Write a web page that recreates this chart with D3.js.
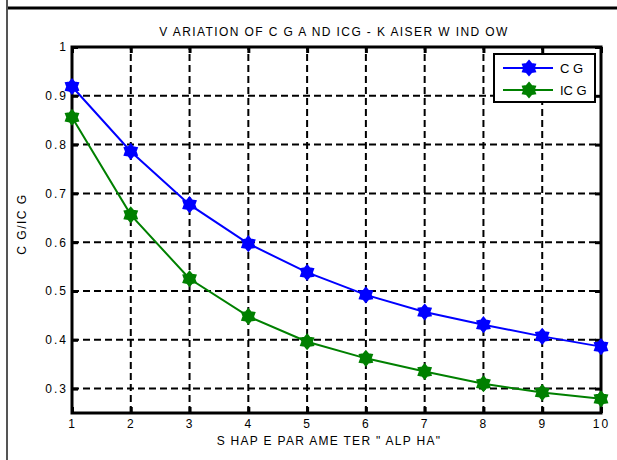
<!DOCTYPE html>
<html>
<head>
<meta charset="utf-8">
<script src="https://cdn.jsdelivr.net/npm/d3@7"></script>
<style>
  body { margin: 0; background: #fff; }
  svg { font-family: "Liberation Sans", Arial, sans-serif; }
</style>
</head>
<body>
<svg id="chart" width="617" height="460"></svg>
<script>
// data
const alpha = [1, 2, 3, 4, 5, 6, 7, 8, 9, 10];
const cg  = [0.919, 0.786, 0.677, 0.597, 0.538, 0.492, 0.457, 0.431, 0.407, 0.386];
const icg = [0.856, 0.656, 0.525, 0.448, 0.396, 0.362, 0.335, 0.310, 0.292, 0.279];
const yTicks = [0.3, 0.4, 0.5, 0.6, 0.7, 0.8, 0.9, 1];
const xTicks = [1, 2, 3, 4, 5, 6, 7, 8, 9, 10];
const seriesNames = ["C G", "IC G"];
const seriesColors = ["#0000ff", "#008000"];

const svg = d3.select("#chart");

// page frame (table cell borders)
svg.append("line").attr("x1", 7).attr("x2", 617).attr("y1", 8).attr("y2", 8)
  .attr("stroke", "#000").attr("stroke-width", 3);
svg.append("line").attr("x1", 7).attr("x2", 7).attr("y1", 0).attr("y2", 460)
  .attr("stroke", "#555").attr("stroke-width", 2);

const mLeft = 72, mRight = 601, mTop = 47, mBottom = 413;

const x = d3.scaleLinear().domain([1, 10]).range([mLeft, mRight]);
const y = d3.scaleLinear().domain([0.25, 1]).range([mBottom, mTop]);

// dashed grid
const grid = svg.append("g").attr("stroke", "#000").attr("stroke-width", 2)
  .attr("stroke-dasharray", "7,4");
grid.selectAll(".gx").data(xTicks.slice(1, -1)).enter().append("line")
  .attr("x1", d => x(d)).attr("x2", d => x(d)).attr("y1", mBottom).attr("y2", mTop);
grid.selectAll(".gy").data(yTicks.slice(0, -1)).enter().append("line")
  .attr("x1", mLeft).attr("x2", mRight).attr("y1", d => y(d)).attr("y2", d => y(d));

// axes with inward ticks
const ax = d3.axisBottom(x).tickValues(xTicks).tickSize(-6).tickPadding(6).tickFormat(d3.format("d"));
const ay = d3.axisLeft(y).tickValues(yTicks).tickSize(-6).tickPadding(4)
  .tickFormat(d => d === 1 ? "1" : d3.format(".1f")(d));
const axTop = d3.axisTop(x).tickValues(xTicks).tickSize(-6).tickFormat("");
const ayRight = d3.axisRight(y).tickValues(yTicks).tickSize(-6).tickFormat("");

function style(g) {
  g.attr("font-family", null).attr("font-size", null);
  g.select(".domain").remove();
  g.selectAll(".tick line").attr("stroke", "#000").attr("stroke-width", 3);
  g.selectAll(".tick text").attr("fill", "#000").style("font-size", "12px")
    .style("letter-spacing", "2px");
}
svg.append("g").attr("transform", `translate(0,${mBottom})`).call(ax).call(style);
svg.append("g").attr("transform", `translate(${mLeft},0)`).call(ay).call(style);
svg.append("g").attr("transform", `translate(0,${mTop})`).call(axTop).call(style);
svg.append("g").attr("transform", `translate(${mRight},0)`).call(ayRight).call(style);

svg.append("rect").attr("x", mLeft).attr("y", mTop).attr("width", mRight - mLeft).attr("height", mBottom - mTop)
  .attr("fill", "none").attr("stroke", "#000").attr("stroke-width", 3);

// hexagram marker
function hexagram(r) {
  const pts = [];
  for (let i = 0; i < 12; i++) {
    const a = Math.PI / 6 * i - Math.PI / 2;
    const rr = i % 2 === 0 ? r : r * 0.68;
    pts.push([rr * Math.cos(a), rr * Math.sin(a)]);
  }
  return "M" + pts.map(p => p.join(",")).join("L") + "Z";
}
const marker = hexagram(7);

const series = [cg, icg];
const line = d3.line().x((d, i) => x(alpha[i])).y(d => y(d)).curve(d3.curveLinear);
series.forEach((vals, k) => {
  svg.append("path").attr("d", line(vals)).attr("fill", "none")
    .attr("stroke", seriesColors[k]).attr("stroke-width", 2);
  svg.selectAll(null).data(vals).enter().append("path")
    .attr("d", marker)
    .attr("transform", (d, i) => `translate(${x(alpha[i])},${y(d)})`)
    .attr("fill", seriesColors[k]).attr("stroke", seriesColors[k]).attr("stroke-width", 2);
});

// legend
const lg = svg.append("g");
lg.append("rect").attr("x", 494).attr("y", 54).attr("width", 101).attr("height", 48)
  .attr("fill", "#fff").attr("stroke", "#000").attr("stroke-width", 2);
seriesNames.forEach((name, k) => {
  const ly = 68 + k * 22;
  lg.append("line").attr("x1", 503).attr("x2", 553).attr("y1", ly).attr("y2", ly)
    .attr("stroke", seriesColors[k]).attr("stroke-width", 2);
  lg.append("path").attr("d", marker).attr("transform", `translate(529,${ly})`)
    .attr("fill", seriesColors[k]).attr("stroke", seriesColors[k]).attr("stroke-width", 2);
  lg.append("text").attr("x", 560).attr("y", ly + 5).style("font-size", "13px").text(name);
});

// titles
svg.append("text").attr("x", 334).attr("y", 36).attr("text-anchor", "middle")
  .style("font-size", "12px").style("letter-spacing", "1.4px")
  .text("V ARIATION OF C G A ND ICG - K AISER W IND OW");
svg.append("text").attr("x", 329).attr("y", 445).attr("text-anchor", "middle")
  .style("font-size", "12px").style("letter-spacing", "1.3px")
  .text("S HAP E PAR AME TER \" ALP HA\"");
svg.append("text").attr("transform", "translate(26,224) rotate(-90)").attr("text-anchor", "middle")
  .style("font-size", "12px").style("letter-spacing", "1.5px")
  .text("C G/IC G");
</script>
</body>
</html>
